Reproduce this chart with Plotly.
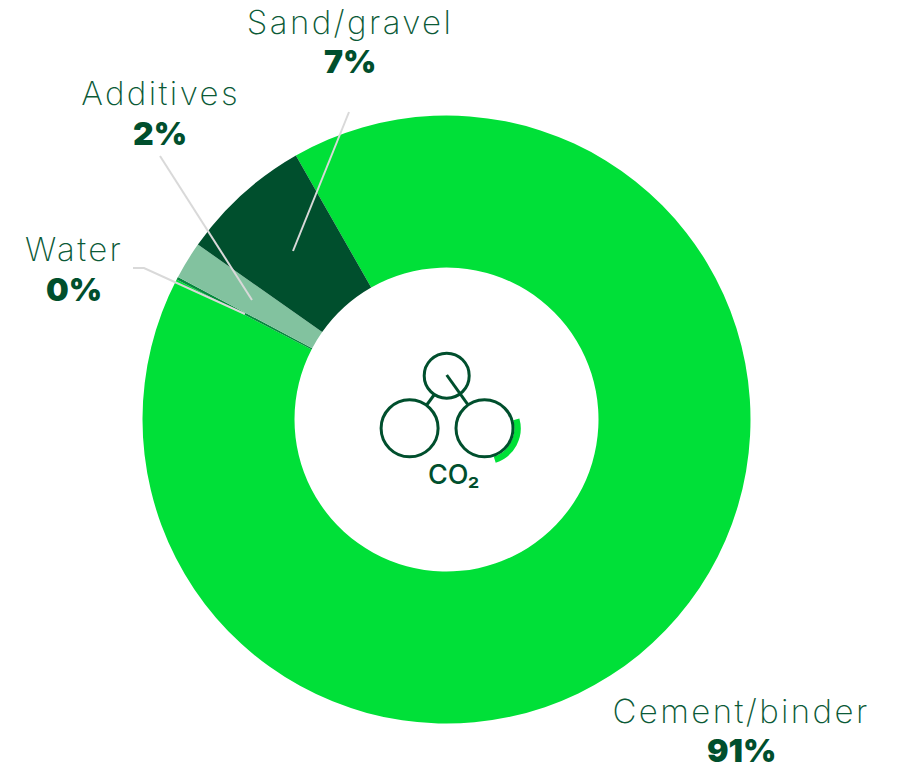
import json
import math

import plotly.graph_objects as go

WIDTH, HEIGHT = 904, 770

# Carbon footprint share per concrete ingredient
categories = ["Cement/binder", "Water", "Additives", "Sand/gravel"]
shares = [91, 0.15, 2, 7]
share_labels = ["91%", "0%", "2%", "7%"]
slice_colors = ["#00E038", "#068A3E", "#82C29F", "#004F2D"]

DARK = "#004F2D"
BRIGHT = "#00E038"
LEADER = "#D9D9D9"
FONT = "Inter"

# Label anchor centres: (x, name y, value y) in page pixels
label_x = [741, 73.5, 160, 349.5]
name_y = [711, 249, 93, 22]
value_y = [750.5, 289, 133, 61]

cx, cy, radius = 446.5, 419.5, 304

fig = go.Figure(
    go.Pie(
        labels=categories,
        values=shares,
        hole=0.5,
        sort=False,
        direction="clockwise",
        rotation=330.3,
        marker=dict(colors=slice_colors, line=dict(width=0)),
        textinfo="none",
        hoverinfo="label+percent",
        domain=dict(
            x=[(cx - radius) / WIDTH, (cx + radius) / WIDTH],
            y=[1 - (cy + radius) / HEIGHT, 1 - (cy - radius) / HEIGHT],
        ),
    )
)


def line(path, color=DARK, width=3):
    return dict(type="path", xref="x", yref="y", path=path, line=dict(color=color, width=width))


def circle(x, y, r):
    return dict(type="circle", xref="x", yref="y", x0=x - r, x1=x + r, y0=y - r, y1=y + r,
                line=dict(color=DARK, width=3), fillcolor="rgba(0,0,0,0)")


def arc_path(x, y, r, start_deg, end_deg):
    """Single cubic segment approximating a circular arc (screen angles, y down)."""
    a0, a1 = math.radians(start_deg), math.radians(end_deg)
    k = 4 / 3 * math.tan((a1 - a0) / 4) * r
    p0 = (x + r * math.cos(a0), y + r * math.sin(a0))
    p3 = (x + r * math.cos(a1), y + r * math.sin(a1))
    p1 = (p0[0] - k * math.sin(a0), p0[1] + k * math.cos(a0))
    p2 = (p3[0] + k * math.sin(a1), p3[1] - k * math.cos(a1))
    return f"M{p0[0]:.2f},{p0[1]:.2f} C{p1[0]:.2f},{p1[1]:.2f} {p2[0]:.2f},{p2[1]:.2f} {p3[0]:.2f},{p3[1]:.2f}"


shapes = [
    # Leader lines from the labels into their slices
    line("M349,112 L293,251", LEADER, 2),
    line("M160,156 L252,300", LEADER, 2),
    line("M133,268 L144,268 L245,314", LEADER, 2),
    # CO2 molecule icon
    line(arc_path(484.5, 428.3, 33, -15.8, 72), BRIGHT, 6.5),
    line("M446.7,375 L467.7,404.3"),
    line("M434,395 L426.7,405"),
    circle(446.7, 375.7, 22.5),
    circle(409.6, 428.3, 28.5),
    circle(484.5, 428.3, 28.5),
]

annotations = [
    dict(x=453.5, y=474.5, text="CO₂", font=dict(family=FONT, size=27, color=DARK, weight=500),
         showarrow=False, xref="x", yref="y")
]
for name, value, x, ny, vy in zip(categories, share_labels, label_x, name_y, value_y):
    annotations.append(dict(x=x, y=ny, text=name, showarrow=False, xref="x", yref="y",
                            font=dict(family=FONT, size=33, color="#0B5A37", weight=200)))
    annotations.append(dict(x=x, y=vy, text=value, showarrow=False, xref="x", yref="y",
                            font=dict(family=FONT, size=32, color=DARK, weight=900)))

fig.update_layout(
    width=WIDTH,
    height=HEIGHT,
    margin=dict(l=0, r=0, t=0, b=0),
    paper_bgcolor="white",
    plot_bgcolor="white",
    showlegend=False,
    xaxis=dict(range=[0, WIDTH], visible=False, fixedrange=True),
    yaxis=dict(range=[HEIGHT, 0], visible=False, fixedrange=True),
    shapes=shapes,
    annotations=annotations,
)

# Open up the tracking of the category names
tracking_js = """
var names = %s;
document.querySelectorAll('.annotation-text').forEach(function (t) {
  if (names.indexOf(t.textContent) >= 0) { t.style.letterSpacing = '2.4px'; }
});
""" % json.dumps(categories)

fig.write_html("out.html", post_script=tracking_js)
